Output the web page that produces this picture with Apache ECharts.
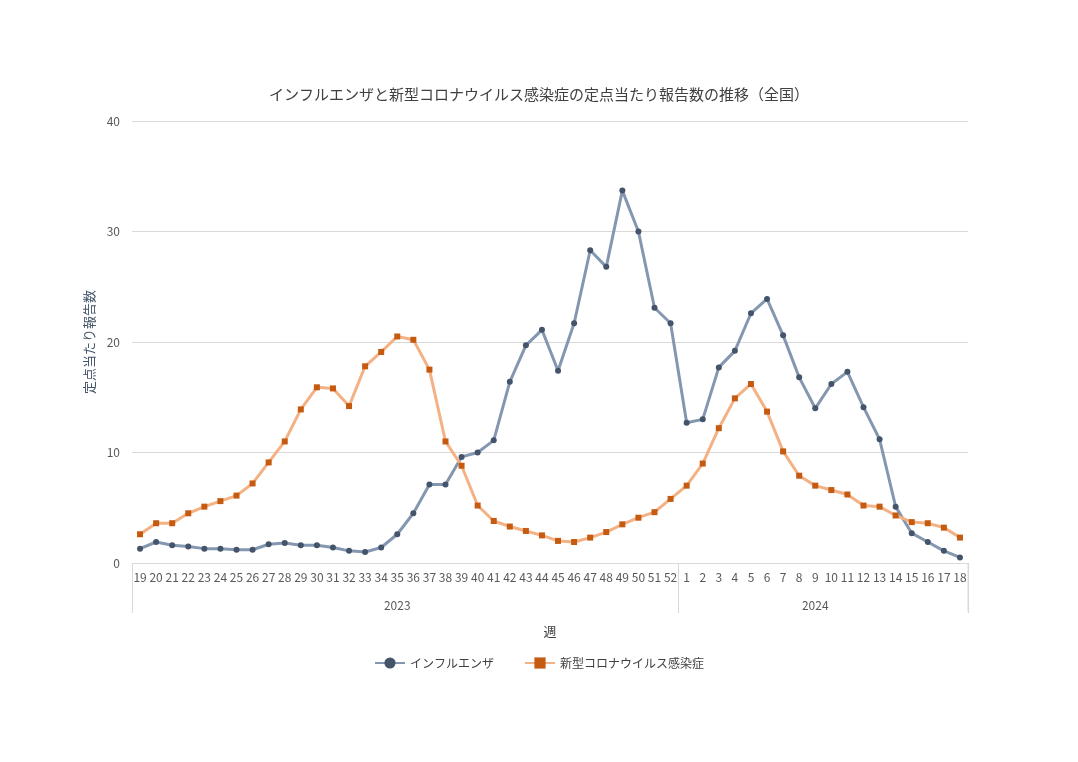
<!DOCTYPE html>
<html>
<head>
<meta charset="utf-8">
<title>ECharts</title>
<script src="https://cdn.jsdelivr.net/npm/echarts@6/dist/echarts.min.js"></script>
</head>
<body style="margin:0">
<div id="main" style="width:1078px;height:762px;"></div>
<script type="text/javascript">
var weeks = ['19','20','21','22','23','24','25','26','27','28','29','30','31','32','33','34','35','36','37','38','39','40','41','42','43','44','45','46','47','48','49','50','51','52',
             '1','2','3','4','5','6','7','8','9','10','11','12','13','14','15','16','17','18']
var years = ['2023', '2024']
var yearStart = [0, 34]
var flu = [1.3,1.9,1.6,1.5,1.3,1.3,1.2,1.2,1.7,1.8,1.6,1.6,1.4,1.1,1.0,1.4,2.6,4.5,7.1,7.1,9.6,10.0,11.1,16.4,19.7,21.1,17.4,21.7,28.3,26.8,33.7,30.0,23.1,21.7,
           12.7,13.0,17.7,19.2,22.6,23.9,20.6,16.8,14.0,16.2,17.3,14.1,11.2,5.1,2.7,1.9,1.1,0.5]
var covid = [2.6,3.6,3.6,4.5,5.1,5.6,6.1,7.2,9.1,11.0,13.9,15.9,15.8,14.2,17.8,19.1,20.5,20.2,17.5,11.0,8.8,5.2,3.8,3.3,2.9,2.5,2.0,1.9,2.3,2.8,3.5,4.1,4.6,5.8,
             7.0,9.0,12.2,14.9,16.2,13.7,10.1,7.9,7.0,6.6,6.2,5.2,5.1,4.3,3.7,3.6,3.2,2.3]

// year label positions (middle of each block)
var yearLabelAt = {16: years[0], 42: years[1]}

var myChart = echarts.init(document.getElementById('main'))
var option = {
    backgroundColor: '#fff',
    textStyle: {fontFamily: 'Noto Sans CJK JP'},
    title: {
        text: 'インフルエンザと新型コロナウイルス感染症の定点当たり報告数の推移（全国）',
        left: 'center', top: 82,
        textStyle: {fontSize: 15, fontWeight: 'normal', color: '#404040'}
    },
    legend: {
        bottom: 88, itemGap: 30, itemWidth: 30,
        textStyle: {color: '#404040', fontSize: 12},
        data: ['インフルエンザ', '新型コロナウイルス感染症']
    },
    grid: {left: 132, right: 110, top: 121, bottom: 199},
    xAxis: [{
        type: 'category', data: weeks,
        axisLine: {lineStyle: {color: '#d9d9d9'}},
        axisTick: {show: false},
        axisLabel: {color: '#595959', fontSize: 12, interval: 0}
    }, {
        type: 'category', data: weeks, position: 'bottom',
        name: '週', nameLocation: 'middle', nameGap: 62,
        nameTextStyle: {color: '#404040', fontSize: 13},
        axisLine: {show: false},
        axisTick: {show: true, length: 50, lineStyle: {color: '#d9d9d9'},
            interval: function (i) { return i === 0 || i === yearStart[1] }},
        axisLabel: {color: '#595959', fontSize: 12, margin: 36, interval: 0,
            formatter: function (v, i) { return yearLabelAt[i] || '' }}
    }],
    yAxis: {
        type: 'value', min: 0, max: 40, interval: 10,
        name: '定点当たり報告数', nameLocation: 'middle', nameGap: 36,
        nameTextStyle: {color: '#44546A', fontSize: 13},
        axisLine: {show: false},
        axisLabel: {color: '#595959', fontSize: 12, margin: 12},
        splitLine: {lineStyle: {color: '#d9d9d9'}}
    },
    graphic: [{
        type: 'line', shape: {x1: 968, y1: 563, x2: 968, y2: 612},
        style: {stroke: '#d9d9d9', lineWidth: 1}
    }],
    series: [{
        name: 'インフルエンザ', type: 'line', data: flu,
        symbol: 'circle', symbolSize: 6,
        lineStyle: {color: '#8497B0', width: 3},
        itemStyle: {color: '#44546A'}
    }, {
        name: '新型コロナウイルス感染症', type: 'line', data: covid,
        symbol: 'rect', symbolSize: 6,
        lineStyle: {color: '#F4B183', width: 3},
        itemStyle: {color: '#C55A11'}
    }]
}
myChart.setOption(option)
</script>
</body>
</html>
